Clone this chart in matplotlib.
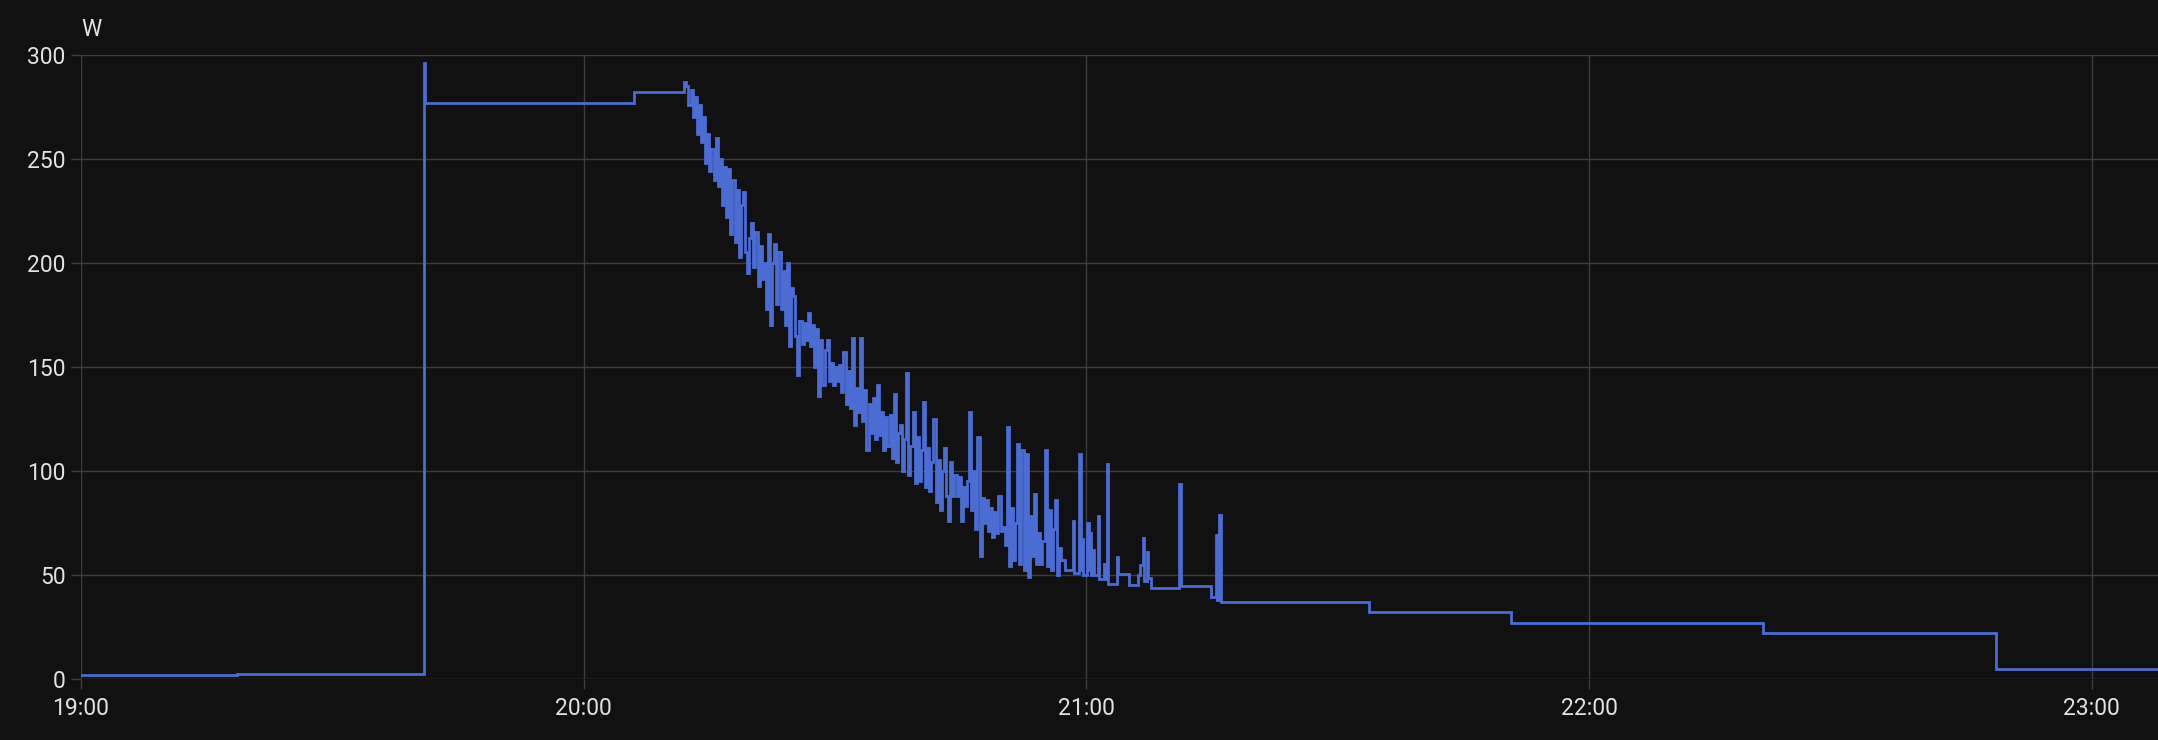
import numpy as np
import pandas as pd
import matplotlib
matplotlib.use("Agg")
import matplotlib.pyplot as plt
import matplotlib.dates as mdates

# ------------------------------
# Power readings (W), minutes after 19:00
# ------------------------------
start_minutes = [0.0, 18.6, 40.9, 41.0, 66.0]
start_watts = [1.8, 2.3, 296, 277, 282]

# noisy ramp-down, sampled every 0.25 min from 72.0
noisy_start = 72.0
noisy_step = 0.25
noisy_watts = [
    287, 285, 276, 283, 270, 280, 262, 276, 258, 270, 248, 262, 244, 255, 240, 260,
    237, 250, 228, 246, 222, 245, 214, 240, 210, 235, 203, 228, 234, 205, 195, 212,
    219, 198, 215, 189, 208, 192, 200, 178, 214, 170, 200, 209, 180, 205, 178, 196,
    170, 200, 160, 188, 184, 165, 146, 172, 161, 171, 163, 176, 160, 170, 150, 168,
    136, 163, 141, 158, 163, 143, 152, 141, 150, 143, 151, 138, 157, 132, 148, 130,
    164, 122, 140, 128, 164, 124, 139, 110, 132, 118, 135, 115, 141, 117, 128, 110,
    126, 112, 127, 106, 137, 104, 118, 122, 100, 115, 147, 98, 112, 128, 94, 116,
    95, 110, 133, 92, 111, 90, 104, 125, 85, 105, 81, 100, 111, 88, 76, 104,
    88, 98, 88, 97, 76, 92, 83, 95, 128, 81, 100, 72, 116, 59, 87, 75,
    86, 71, 82, 68, 80, 70, 88, 71, 73, 64, 121, 54, 82, 57, 75, 113,
    55, 110, 52, 108, 49, 78, 59, 89, 55, 70, 55, 66, 110, 54, 81, 52,
    72, 86, 50, 63,
]

tail_minutes = [
    117.0, 117.5, 118.4, 118.55, 119.15, 119.3, 119.5, 119.65, 120.1, 120.3,
    120.45, 120.6, 120.75, 120.9, 121.4, 121.5, 122.15, 122.3, 122.45, 122.6,
    123.6, 123.8, 125.1, 126.1, 126.4, 126.75, 126.9, 127.25, 127.4, 127.7,
    131.1, 131.25, 134.9, 135.45, 135.6, 135.85, 136.05, 153.7, 170.7, 200.7,
    228.6, 248.0,
]
tail_watts = [
    57, 52, 76, 51, 108, 52, 67, 50, 75, 52,
    70, 50, 62, 49.8, 78, 47.7, 55, 47.7, 103, 45.5,
    58.6, 50.3, 45, 50, 54.6, 67.4, 47, 60.7, 48.4, 43.4,
    93.6, 44.5, 39, 69, 38, 78.7, 36.7, 31.9, 26.9, 22.0,
    4.7, 4.7,
]

y_ticks = [0, 50, 100, 150, 200, 250, 300]
unit_label = "W"

# ------------------------------
# Assemble series
# ------------------------------
noisy_minutes = noisy_start + noisy_step * np.arange(len(noisy_watts))
minutes = np.concatenate([start_minutes, noisy_minutes, tail_minutes])
watts = np.concatenate([start_watts, noisy_watts, tail_watts])

base = pd.Timestamp("2024-01-01 19:00")
times = (base + pd.to_timedelta(minutes, unit="m")).to_pydatetime()

# ------------------------------
# Plot
# ------------------------------
BG = "#111111"
GRID = "#3c3c3c"
TEXT = "#e1e1e1"
LINE = "#4a6cd3"

plt.rcParams["font.family"] = ["Roboto", "DejaVu Sans"]

fig = plt.figure(figsize=(21.58, 7.40), dpi=100, facecolor=BG)
ax = fig.add_axes([81 / 2158, 61.5 / 740, 1 - 81 / 2158, 623.5 / 740])
ax.set_facecolor(BG)

ax.plot(times, watts, drawstyle="steps-post", color=LINE, lw=2.0, solid_joinstyle="miter")

ax.set_ylim(0, 300)
ax.set_yticks(y_ticks)
ax.set_xlim(base.to_pydatetime(), (base + pd.Timedelta(minutes=247.9)).to_pydatetime())
ax.xaxis.set_major_locator(mdates.HourLocator())
ax.xaxis.set_major_formatter(mdates.DateFormatter("%H:%M"))

ax.grid(True, color=GRID, lw=1.0)
ax.set_axisbelow(True)
for s in ax.spines.values():
    s.set_visible(False)
ax.tick_params(axis="both", colors=GRID, length=7, width=1.0, labelcolor=TEXT, labelsize=16.5)
ax.tick_params(axis="y", pad=4)
ax.tick_params(axis="x", pad=6)

ax.text(0, 1.03, unit_label, transform=ax.transAxes, color=TEXT, fontsize=16.5,
        ha="left", va="baseline")

fig.savefig("out.png", dpi=100, facecolor=BG)
